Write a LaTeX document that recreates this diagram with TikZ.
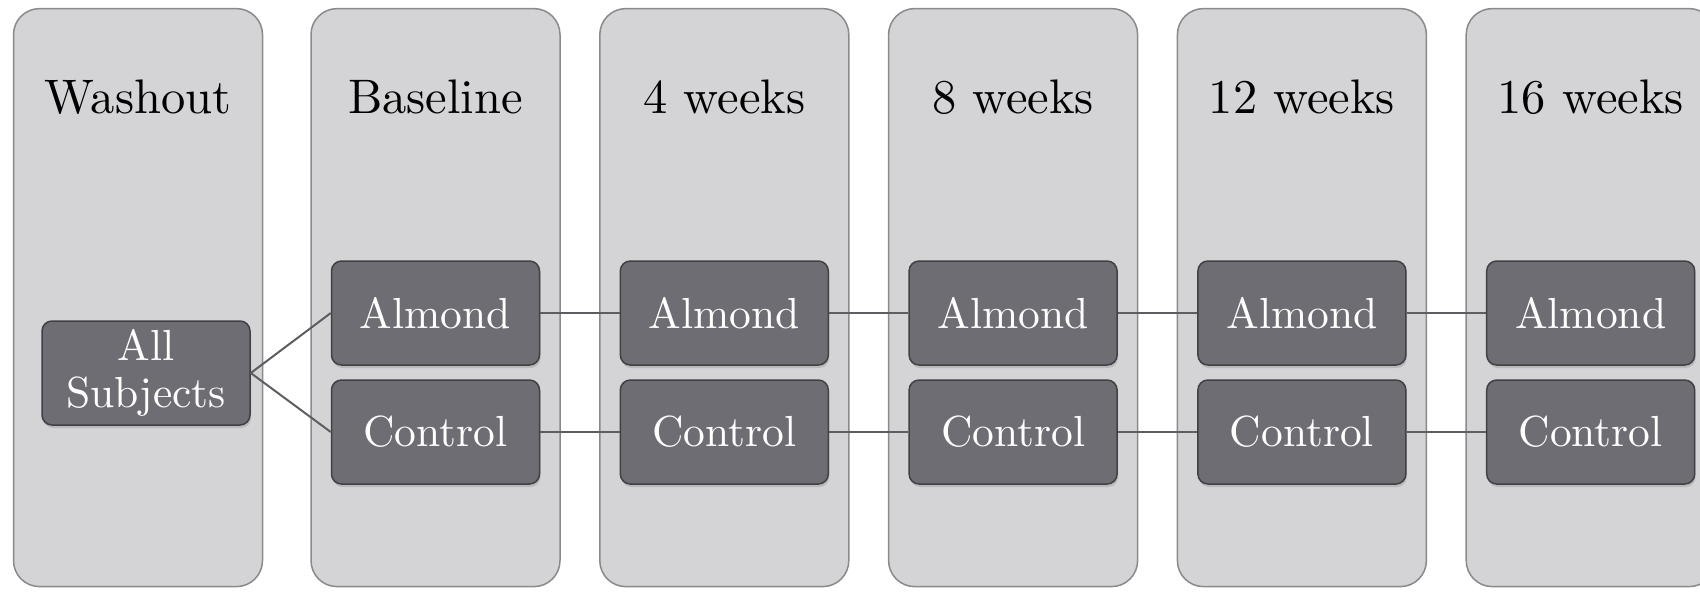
\documentclass[tikz,border=0pt]{standalone}
\usepackage{fontspec}
\setmainfont{lmroman10-regular.otf}
\usetikzlibrary{shadows}
\definecolor{panelfill}{HTML}{D4D4D6}
\definecolor{paneldraw}{HTML}{8A8A8C}
\definecolor{boxfill}{HTML}{6E6D73}
\definecolor{boxdraw}{HTML}{404045}
\definecolor{linkcol}{HTML}{5E5E62}
\tikzset{
 panel/.style={draw=paneldraw, fill=panelfill, line width=1.5pt, rounded corners=26pt, minimum width=249pt, minimum height=578pt, inner sep=0pt},
 grp/.style={draw=boxdraw, fill=boxfill, line width=1.5pt, rounded corners=10pt, minimum width=208pt, minimum height=104pt, text=white, font=\fontsize{43.5}{47}\selectfont, align=center, inner sep=0pt, drop shadow={opacity=0.3, shadow xshift=1pt, shadow yshift=-3pt}},
 head/.style={font=\fontsize{48.5}{52}\selectfont, anchor=base, inner sep=0pt},
 link/.style={draw=linkcol, line width=2pt}
}
\begin{document}
\begin{tikzpicture}[x=1pt,y=-1pt]
\useasboundingbox (0,0) rectangle (1700,592);
\clip (0,0) rectangle (1700,592);
% panels
\node[panel] (pW) at (138,297.6) {};
\node[head] (hW) at (138,113) {Washout};
\foreach \i/\x/\t in {1/435.5/Baseline, 2/724.3/4 weeks, 3/1013.1/8 weeks, 4/1301.9/12 weeks, 5/1590.7/16 weeks}{
  \node[panel] (p\i) at (\x,297.6) {};
  \node[head] (h\i) at (\x,113) {\t};
}
% boxes
\node[grp] (all) at (146,373) {All\\Subjects};
\foreach \i/\x in {1/435.5, 2/724.3, 3/1013.1, 4/1301.9, 5/1590.7}{
  \node[grp] (a\i) at (\x,313) {Almond};
  \node[grp] (c\i) at (\x,432) {Control};
}
% links
\draw[link] (all.east) -- (a1.west);
\draw[link] (all.east) -- (c1.west);
\foreach \i in {1,2,3,4}{
  \pgfmathtruncatemacro{\j}{\i+1}
  \draw[link] (a\i.east) -- (a\j.west);
  \draw[link] (c\i.east) -- (c\j.west);
}
\end{tikzpicture}
\end{document}
